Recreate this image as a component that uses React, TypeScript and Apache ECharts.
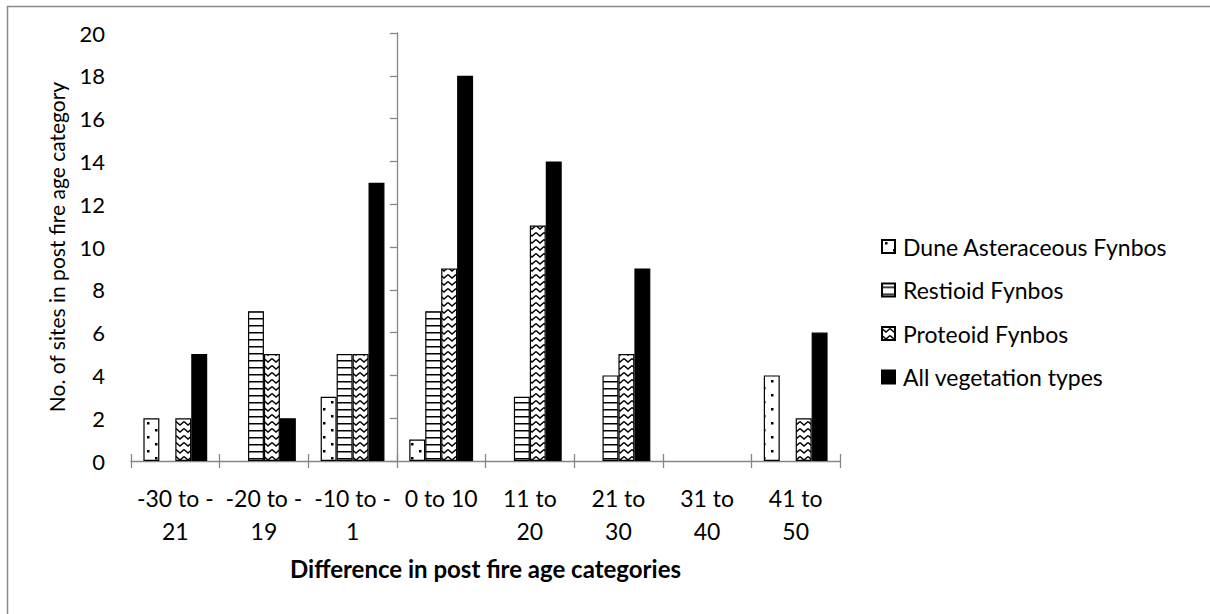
import React, { useEffect, useRef } from 'react';
import * as echarts from 'echarts';

const categories = ['-30 to -\n21', '-20 to -\n19', '-10 to -\n1', '0 to 10', '11 to\n20', '21 to\n30', '31 to\n40', '41 to\n50'];
const seriesNames = ['Dune Asteraceous Fynbos', 'Restioid Fynbos', 'Proteoid Fynbos', 'All vegetation types'];
const duneValues = [2, 0, 3, 1, 0, 0, 0, 4];
const restioidValues = [0, 7, 5, 7, 3, 4, 0, 0];
const proteoidValues = [2, 5, 5, 9, 11, 5, 0, 2];
const allValues = [5, 2, 13, 18, 14, 9, 0, 6];
const yAxisName = 'No. of sites in post fire age category';
const xAxisName = 'Difference in post fire age categories';

const FONT = 'Lato, "Open Sans", sans-serif';

function makePattern(kind: string): HTMLCanvasElement {
  const c = document.createElement('canvas');
  if (kind === 'dots') {
    c.width = 16; c.height = 14;
    const ctx = c.getContext('2d')!;
    ctx.fillStyle = '#fff'; ctx.fillRect(0, 0, 16, 14);
    ctx.fillStyle = '#000';
    ctx.fillRect(3, 2, 2.5, 2.5);
    ctx.fillRect(11, 9, 2.5, 2.5);
  } else if (kind === 'hlines') {
    c.width = 8; c.height = 7;
    const ctx = c.getContext('2d')!;
    ctx.fillStyle = '#fff'; ctx.fillRect(0, 0, 8, 7);
    ctx.fillStyle = '#000';
    ctx.fillRect(0, 3, 8, 1.5);
  } else {
    c.width = 8; c.height = 7;
    const ctx = c.getContext('2d')!;
    ctx.fillStyle = '#fff'; ctx.fillRect(0, 0, 8, 7);
    ctx.strokeStyle = '#000'; ctx.lineWidth = 1.4;
    ctx.beginPath();
    ctx.moveTo(0, 1.5); ctx.lineTo(4, 5); ctx.lineTo(8, 1.5);
    ctx.stroke();
  }
  return c;
}

export default function App() {
  const ref = useRef<HTMLDivElement>(null);
  useEffect(() => {
    if (!ref.current) return;
    const chart = echarts.init(ref.current, undefined, { renderer: 'svg' });
    const left = 131, right = 840;
    const catW = (right - left) / categories.length;
    const fills = [
      { image: makePattern('dots'), repeat: 'repeat' },
      { image: makePattern('hlines'), repeat: 'repeat' },
      { image: makePattern('zig'), repeat: 'repeat' },
      '#000',
    ];
    const values = [duneValues, restioidValues, proteoidValues, allValues];
    const axisGray = '#868686';
    chart.setOption({
      animation: false,
      backgroundColor: '#fff',
      textStyle: { fontFamily: FONT },
      grid: { left, right: 1210 - right, top: 33, bottom: 614 - 461 },
      legend: {
        orient: 'vertical',
        left: 876,
        top: 230,
        icon: 'rect',
        itemWidth: 13,
        itemHeight: 13,
        itemGap: 20.5,
        data: seriesNames,
        textStyle: { fontSize: 23, lineHeight: 23, color: '#000', fontFamily: FONT, padding: [0, 0, 0, 3] },
      },
      xAxis: [
        {
          type: 'category',
          data: categories,
          position: 'bottom',
          axisLine: { show: true, lineStyle: { color: axisGray, width: 1.3 } },
          axisTick: { show: true, interval: 0, length: 7, lineStyle: { color: axisGray, width: 1.3 } },
          axisLabel: { interval: 0, fontSize: 23, color: '#000', fontFamily: FONT, margin: 20, lineHeight: 33 },
          name: xAxisName,
          nameLocation: 'middle',
          nameGap: 95,
          nameTextStyle: { fontSize: 24, fontWeight: 'bold', color: '#000', fontFamily: FONT },
        },
        {
          type: 'category',
          data: categories,
          position: 'bottom',
          axisLine: { show: false },
          axisTick: { show: true, inside: true, interval: 0, length: 7, lineStyle: { color: axisGray, width: 1.3 } },
          axisLabel: { show: false },
        },
      ],
      yAxis: [
        {
          type: 'value',
          min: 0,
          max: 20,
          interval: 2,
          axisLine: { show: false },
          axisTick: { show: false },
          splitLine: { show: false },
          axisLabel: { fontSize: 22, color: '#000', fontFamily: FONT, margin: 26 },
          name: yAxisName,
          nameLocation: 'middle',
          nameGap: 64,
          nameRotate: 90,
          nameTextStyle: { fontSize: 21, color: '#000', fontFamily: FONT },
        },
        {
          type: 'value',
          min: 0,
          max: 20,
          interval: 2,
          position: 'left',
          offset: -catW * 3,
          axisLine: { show: true, lineStyle: { color: axisGray, width: 1.3 } },
          axisTick: { show: true, length: 7, lineStyle: { color: axisGray, width: 1.3 } },
          splitLine: { show: false },
          axisLabel: { show: false },
        },
      ],
      series: seriesNames.map((name, i) => ({
        name,
        type: 'bar',
        xAxisIndex: 0,
        yAxisIndex: 0,
        barGap: '0%',
        barCategoryGap: '28%',
        data: values[i].map((v) => (v === 0 ? null : v)),
        itemStyle: { color: fills[i], borderColor: '#000', borderWidth: 1.2 },
      })),
      graphic: [
        {
          type: 'rect',
          left: 5,
          top: 4,
          shape: { width: 1204, height: 609 },
          style: { fill: 'none', stroke: '#898989', lineWidth: 1.5 },
          silent: true,
          z: -1,
        },
      ],
    });
    return () => chart.dispose();
  }, []);
  return <div ref={ref} style={{ position: 'fixed', left: 0, top: 0, width: 1210, height: 614 }} />;
}
